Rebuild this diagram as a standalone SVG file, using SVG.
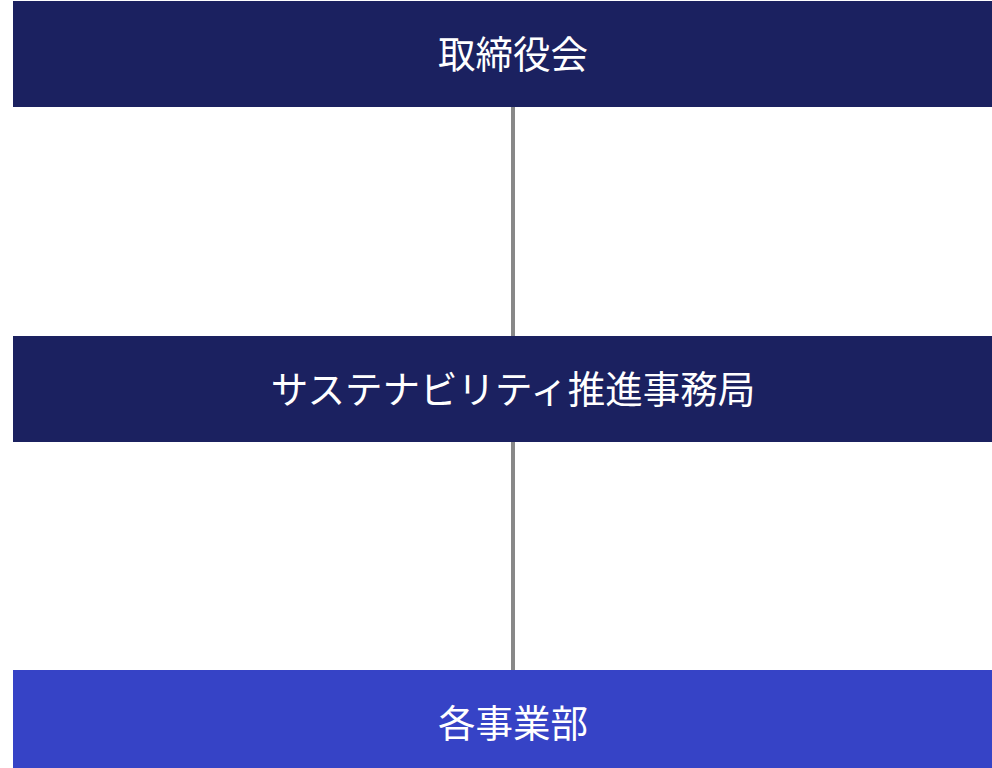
<svg xmlns="http://www.w3.org/2000/svg" width="992" height="768" viewBox="0 0 992 768">
<style>
.t{font-family:"Noto Sans CJK JP","Noto Sans",sans-serif;font-size:37.5px;fill:#ffffff;text-anchor:middle;dominant-baseline:central}
.dk{fill:#1b2160}
.bl{fill:#3643c6}
.c{stroke:#888888;stroke-width:4;fill:none}
</style>
<rect width="992" height="768" fill="#ffffff"/>
<g id="connectors">
<line class="c" x1="513" y1="107" x2="513" y2="336"/>
<line class="c" x1="513" y1="442" x2="513" y2="670"/>
</g>
<g id="board">
<rect class="dk" x="13" y="1" width="979" height="106"/>
<text class="t" x="513" y="51">取締役会</text>
</g>
<g id="office">
<rect class="dk" x="13" y="336" width="979" height="106"/>
<text class="t" x="513" y="386">サステナビリティ推進事務局</text>
</g>
<g id="divisions">
<rect class="bl" x="13" y="670" width="979" height="98"/>
<text class="t" x="513" y="720">各事業部</text>
</g>
</svg>
